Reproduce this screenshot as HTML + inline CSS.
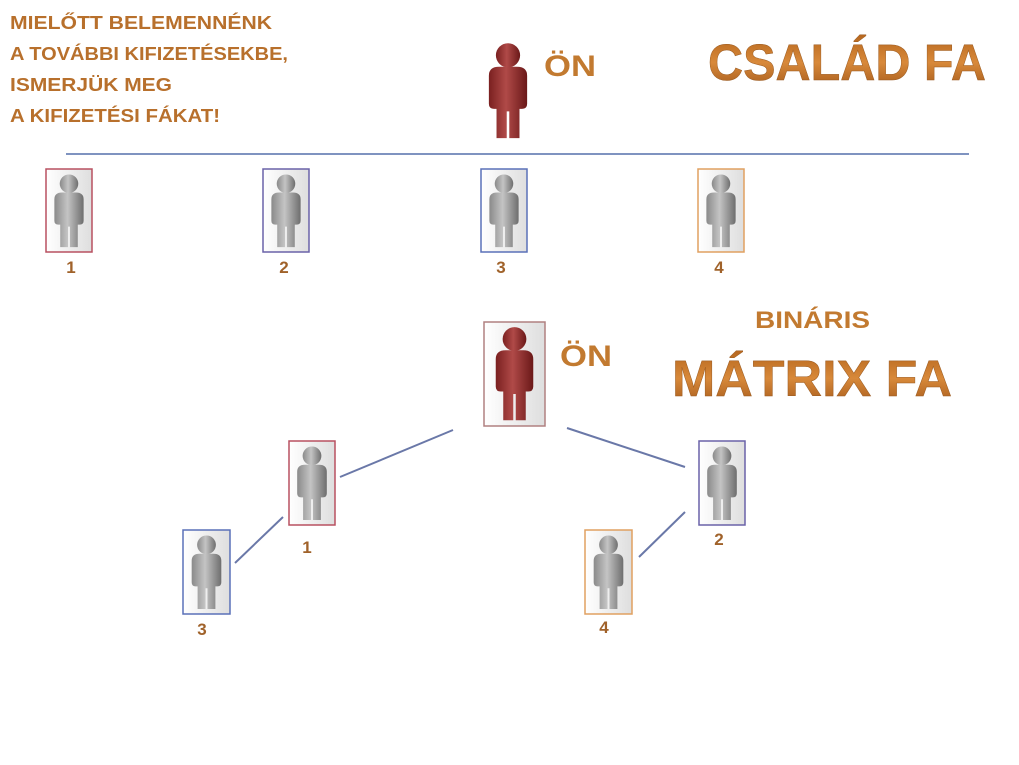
<!DOCTYPE html>
<html><head><meta charset="utf-8"><style>
html,body{margin:0;padding:0;background:#fff;width:1019px;height:765px;overflow:hidden}
svg{display:block}
text{font-family:"Liberation Sans",sans-serif;font-weight:bold}
</style></head><body>
<svg width="1019" height="765" viewBox="0 0 1019 765" xmlns="http://www.w3.org/2000/svg">
<defs>
<linearGradient id="g" x1="0" x2="1"><stop offset="0" stop-color="#8a8a8a"/><stop offset="0.45" stop-color="#c4c4c4"/><stop offset="1" stop-color="#6e6e6e"/></linearGradient>
<linearGradient id="r" x1="0" x2="1"><stop offset="0" stop-color="#7a2020"/><stop offset="0.45" stop-color="#b04a48"/><stop offset="1" stop-color="#6a1818"/></linearGradient>
<linearGradient id="bg" x1="0" x2="1"><stop offset="0" stop-color="#ffffff"/><stop offset="1" stop-color="#dedede"/></linearGradient>
<linearGradient id="t" x1="0" y1="0" x2="0" y2="1"><stop offset="0" stop-color="#b5661e"/><stop offset="0.5" stop-color="#d8893a"/><stop offset="1" stop-color="#a2581a"/></linearGradient>
<symbol id="pg" viewBox="0 0 40 80"><circle cx="20" cy="12" r="9.5" fill="url(#g)"/><path d="M5 28 Q5 21 13 21 L27 21 Q35 21 35 28 L35 50 Q35 54 31 54 L29 54 L29 77 L21 77 L21 56 L19 56 L19 77 L11 77 L11 54 L9 54 Q5 54 5 50 Z" fill="url(#g)"/></symbol>
<symbol id="pr" viewBox="0 0 40 80"><circle cx="20" cy="12" r="9.5" fill="url(#r)"/><path d="M5 28 Q5 21 13 21 L27 21 Q35 21 35 28 L35 50 Q35 54 31 54 L29 54 L29 77 L21 77 L21 56 L19 56 L19 77 L11 77 L11 54 L9 54 Q5 54 5 50 Z" fill="url(#r)"/></symbol>
</defs>

<g font-size="18" fill="#b8702c">
<text x="10" y="29" textLength="262" lengthAdjust="spacingAndGlyphs">MIELŐTT BELEMENNÉNK</text>
<text x="10" y="60" textLength="278" lengthAdjust="spacingAndGlyphs">A TOVÁBBI KIFIZETÉSEKBE,</text>
<text x="10" y="91" textLength="162" lengthAdjust="spacingAndGlyphs">ISMERJÜK MEG</text>
<text x="10" y="122" textLength="210" lengthAdjust="spacingAndGlyphs">A KIFIZETÉSI FÁKAT!</text>
</g>

<use href="#pr" x="481" y="40" width="54" height="102"/>
<text x="544" y="76" font-size="30" fill="#c27a30" textLength="52" lengthAdjust="spacingAndGlyphs">ÖN</text>
<text x="708" y="80" font-size="51" fill="url(#t)" stroke="#9a5a20" stroke-width="0.5" textLength="278" lengthAdjust="spacingAndGlyphs">CSALÁD FA</text>

<line x1="66" y1="154" x2="969" y2="154" stroke="#7f93c0" stroke-width="2"/>

<g stroke-width="1.5">
<rect x="46" y="169" width="46" height="83" fill="url(#bg)" stroke="#b85060"/>
<rect x="263" y="169" width="46" height="83" fill="url(#bg)" stroke="#6a62a8"/>
<rect x="481" y="169" width="46" height="83" fill="url(#bg)" stroke="#5a70b8"/>
<rect x="698" y="169" width="46" height="83" fill="url(#bg)" stroke="#e0a060"/>
</g>
<use href="#pg" x="49" y="172" width="40" height="78"/>
<use href="#pg" x="266" y="172" width="40" height="78"/>
<use href="#pg" x="484" y="172" width="40" height="78"/>
<use href="#pg" x="701" y="172" width="40" height="78"/>
<g font-size="17" fill="#a0622a" text-anchor="middle">
<text x="71" y="273">1</text><text x="284" y="273">2</text><text x="501" y="273">3</text><text x="719" y="273">4</text>
</g>

<text x="755" y="328" font-size="24" fill="#c27a30" textLength="115" lengthAdjust="spacingAndGlyphs">BINÁRIS</text>
<text x="672" y="396" font-size="51" fill="url(#t)" stroke="#9a5a20" stroke-width="0.5" textLength="280" lengthAdjust="spacingAndGlyphs">MÁTRIX FA</text>

<rect x="484" y="322" width="61" height="104" fill="url(#bg)" stroke="#b08080" stroke-width="1.5"/>
<use href="#pr" x="487" y="324" width="55" height="100"/>
<text x="560" y="366" font-size="30" fill="#c27a30" textLength="52" lengthAdjust="spacingAndGlyphs">ÖN</text>

<g stroke="#6a78a8" stroke-width="2">
<line x1="340" y1="477" x2="453" y2="430"/>
<line x1="567" y1="428" x2="685" y2="467"/>
<line x1="235" y1="563" x2="283" y2="517"/>
<line x1="639" y1="557" x2="685" y2="512"/>
</g>

<g stroke-width="1.5">
<rect x="289" y="441" width="46" height="84" fill="url(#bg)" stroke="#b85060"/>
<rect x="699" y="441" width="46" height="84" fill="url(#bg)" stroke="#6a62a8"/>
<rect x="183" y="530" width="47" height="84" fill="url(#bg)" stroke="#5a70b8"/>
<rect x="585" y="530" width="47" height="84" fill="url(#bg)" stroke="#e0a060"/>
</g>
<use href="#pg" x="292" y="444" width="40" height="79"/>
<use href="#pg" x="702" y="444" width="40" height="79"/>
<use href="#pg" x="186" y="533" width="41" height="79"/>
<use href="#pg" x="588" y="533" width="41" height="79"/>
<g font-size="17" fill="#a0622a" text-anchor="middle">
<text x="307" y="553">1</text><text x="719" y="545">2</text><text x="202" y="635">3</text><text x="604" y="633">4</text>
</g>
</svg>
</body></html>
